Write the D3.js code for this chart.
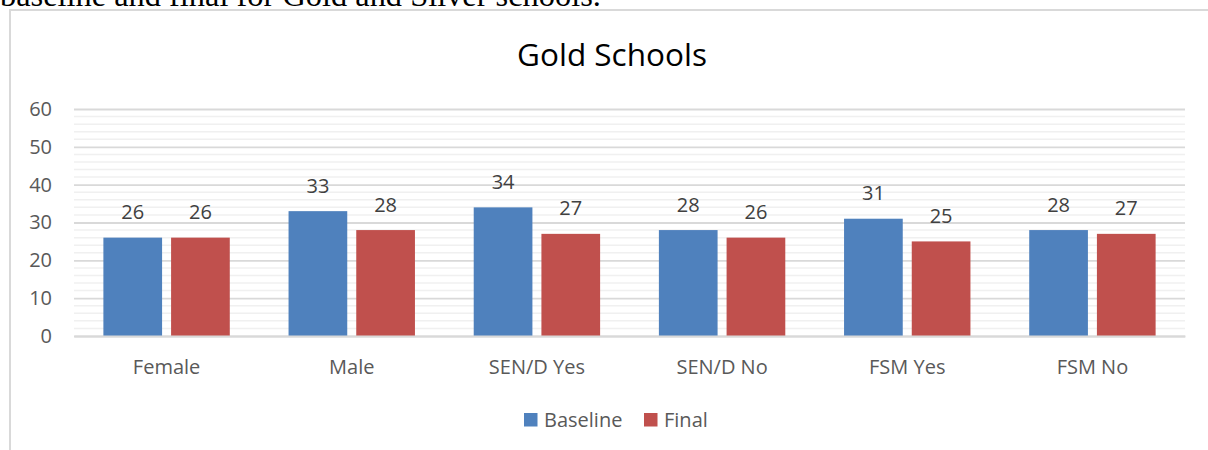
<!DOCTYPE html>
<html>
<head>
<meta charset="utf-8">
<script src="https://cdn.jsdelivr.net/npm/d3@7"></script>
<style>
  html, body { margin: 0; padding: 0; background: #fff; }
  svg { display: block; }
</style>
</head>
<body>
<svg id="chart" width="1208" height="450"></svg>
<script>
// Gold Schools: baseline vs final by pupil group
const categories = ["Female", "Male", "SEN/D Yes", "SEN/D No", "FSM Yes", "FSM No"];
const seriesNames = ["Baseline", "Final"];
const baselineValues = [26, 33, 34, 28, 31, 28];
const finalValues = [26, 28, 27, 26, 25, 27];
const yTicks = [0, 10, 20, 30, 40, 50, 60];
const seriesColors = ["#4f81bd", "#c0504d"];

const svg = d3.select("#chart");
const font = "'Open Sans', sans-serif";

// Caption line of the surrounding document, running off the top edge
svg.append("text")
  .attr("x", 0).attr("y", 6)
  .attr("font-family", "'Liberation Serif', 'Times New Roman', serif")
  .attr("font-size", 32.4)
  .attr("fill", "#000")
  .text("baseline and final for Gold and Silver schools.");

// Chart frame
svg.append("rect")
  .attr("x", 10).attr("y", 10)
  .attr("width", 1230).attr("height", 470)
  .attr("fill", "#fff")
  .attr("stroke", "#d9d9d9")
  .attr("stroke-width", 2);

// Title
svg.append("text")
  .attr("x", 612).attr("y", 66)
  .attr("text-anchor", "middle")
  .attr("font-family", font)
  .attr("font-size", 31.5)
  .attr("fill", "#000")
  .text("Gold Schools");

const plot = { left: 74, right: 1185, top: 109, bottom: 336 };

const y = d3.scaleLinear().domain([0, 60]).range([plot.bottom, plot.top]);
const x0 = d3.scaleBand().domain(categories).range([plot.left, plot.right]).padding(0);
const groupFrac = 0.6826;
const x1 = d3.scaleBand().domain(seriesNames)
  .range([0, x0.bandwidth() * groupFrac])
  .paddingInner(0.133).paddingOuter(0);
const groupOffset = x0.bandwidth() * (1 - groupFrac) / 2;

// Minor gridlines every 2 units
const minorTicks = d3.range(0, 61, 2).filter(v => v % 10 !== 0);
svg.append("g")
  .selectAll("line")
  .data(minorTicks)
  .join("line")
  .attr("x1", plot.left).attr("x2", plot.right)
  .attr("y1", d => y(d)).attr("y2", d => y(d))
  .attr("stroke", "#f0f0f0")
  .attr("stroke-width", 1.5);

// Major gridlines and y labels via d3 axis
const yAxis = d3.axisLeft(y)
  .tickValues(yTicks)
  .tickSize(-(plot.right - plot.left))
  .tickPadding(22)
  .tickFormat(d3.format("d"));

const yg = svg.append("g")
  .attr("transform", `translate(${plot.left},0)`)
  .call(yAxis);
yg.select(".domain").remove();
yg.selectAll(".tick line")
  .attr("stroke", "#d9d9d9")
  .attr("stroke-width", 1.8);
yg.selectAll(".tick text")
  .attr("font-family", font)
  .attr("font-size", 20)
  .attr("fill", "#595959");

// Bars
const rows = categories.map((c, i) => ({
  category: c,
  values: [
    { series: seriesNames[0], value: baselineValues[i], color: seriesColors[0] },
    { series: seriesNames[1], value: finalValues[i], color: seriesColors[1] }
  ]
}));

const groups = svg.append("g")
  .selectAll("g")
  .data(rows)
  .join("g")
  .attr("transform", d => `translate(${x0(d.category) + groupOffset},0)`);

groups.selectAll("rect")
  .data(d => d.values)
  .join("rect")
  .attr("x", d => x1(d.series))
  .attr("width", x1.bandwidth())
  .attr("y", d => y(d.value))
  .attr("height", d => y(0) - y(d.value))
  .attr("fill", d => d.color);

groups.selectAll("text")
  .data(d => d.values)
  .join("text")
  .attr("x", d => x1(d.series) + x1.bandwidth() / 2)
  .attr("y", d => y(d.value) - 18.5)
  .attr("text-anchor", "middle")
  .attr("font-family", font)
  .attr("font-size", 20)
  .attr("fill", "#404040")
  .text(d => d.value);

// X axis
const xAxis = d3.axisBottom(x0).tickSize(0).tickPadding(24);
const xg = svg.append("g")
  .attr("transform", `translate(0,${plot.bottom})`)
  .call(xAxis);
xg.select(".domain")
  .attr("stroke", "#d9d9d9")
  .attr("stroke-width", 1.8);
xg.selectAll(".tick text")
  .attr("font-family", font)
  .attr("font-size", 20)
  .attr("fill", "#595959");

// Legend
const legendItems = [
  { name: seriesNames[0], color: seriesColors[0], x: 524 },
  { name: seriesNames[1], color: seriesColors[1], x: 644 }
];
const legend = svg.append("g")
  .selectAll("g")
  .data(legendItems)
  .join("g")
  .attr("transform", d => `translate(${d.x},413)`);
legend.append("rect")
  .attr("width", 13.5).attr("height", 13.5)
  .attr("fill", d => d.color);
legend.append("text")
  .attr("x", 20).attr("y", 13.5)
  .attr("font-family", font)
  .attr("font-size", 20)
  .attr("fill", "#595959")
  .text(d => d.name);
</script>
</body>
</html>
